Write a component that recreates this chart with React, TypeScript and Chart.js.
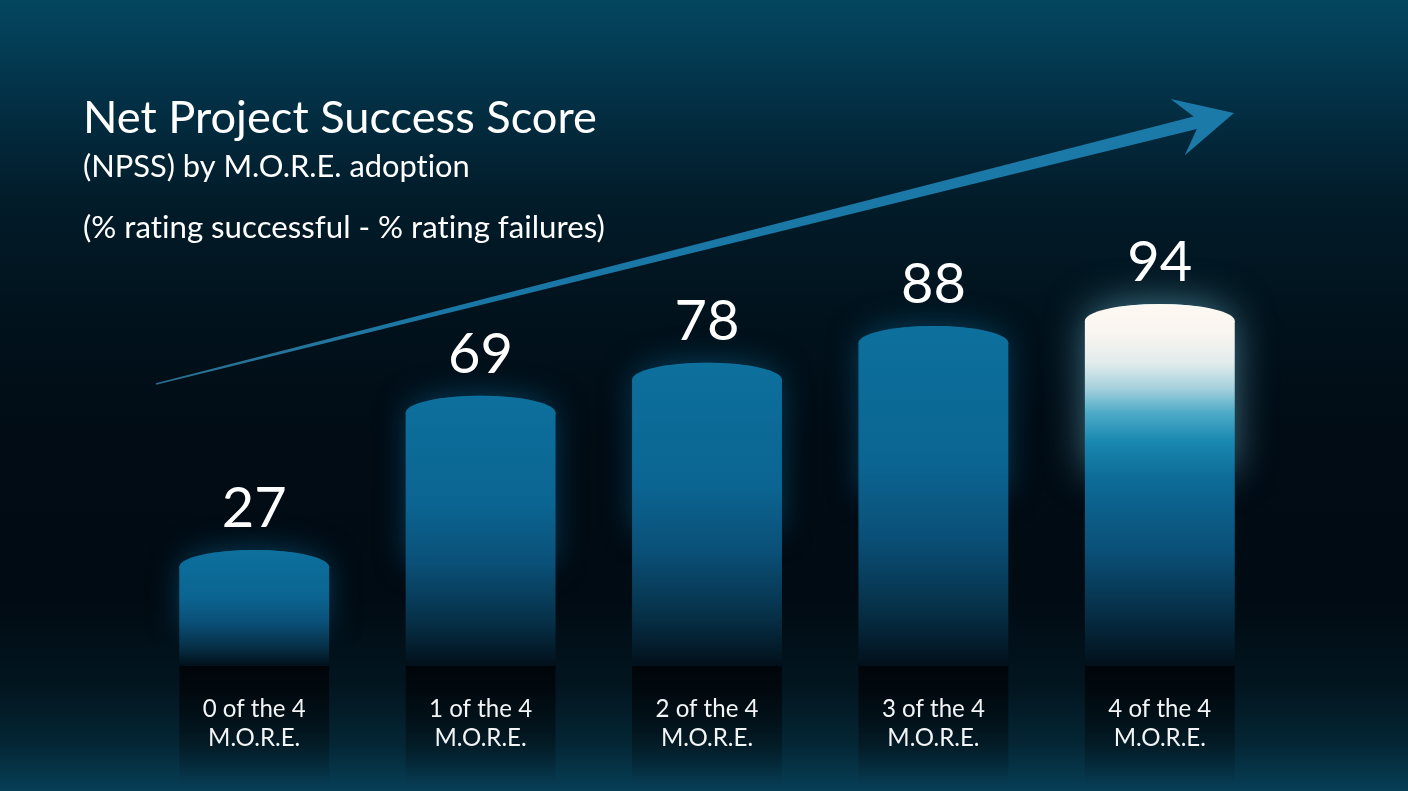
import React, { useEffect, useRef } from 'react';
import { Chart, registerables } from 'chart.js';

Chart.register(...registerables);

// ---------- data ----------
const CATEGORY_LINES: string[][] = [
  ['0 of the 4', 'M.O.R.E.'],
  ['1 of the 4', 'M.O.R.E.'],
  ['2 of the 4', 'M.O.R.E.'],
  ['3 of the 4', 'M.O.R.E.'],
  ['4 of the 4', 'M.O.R.E.'],
];
const NPSS_VALUES: number[] = [27, 69, 78, 88, 94];
const Y_RANGE: number[] = [0, 100];
const TITLE = 'Net Project Success Score';
const SUBTITLE = '(NPSS) by M.O.R.E. adoption';
const NOTE = '(% rating successful - % rating failures)';
const HIGHLIGHT_INDEX = 4;

// ---------- style ----------
const W = 1408;
const H = 791;
const FONT = 'Lato, "Open Sans", "DejaVu Sans", sans-serif';
const CAP = 17;

function fitSize(ctx: CanvasRenderingContext2D, text: string, target: number, weight = 'normal') {
  ctx.font = `${weight} 100px ${FONT}`;
  const w = ctx.measureText(text).width;
  return (100 * target) / w;
}

function noLigatures(ctx: any) {
  try {
    ctx.textRendering = 'optimizeSpeed';
  } catch (e) {
    /* ignore */
  }
}

function barGradient(ctx: CanvasRenderingContext2D, top: number, bottom: number, highlight: boolean) {
  const g = ctx.createLinearGradient(0, top, 0, bottom);
  if (highlight) {
    g.addColorStop(0, '#fdf8f2');
    g.addColorStop(0.08, '#f9f5f0');
    g.addColorStop(0.16, '#e3ecec');
    g.addColorStop(0.23, '#a9d2dd');
    g.addColorStop(0.3, '#4eabc8');
    g.addColorStop(0.38, '#1988b0');
    g.addColorStop(0.48, '#0d6c98');
    g.addColorStop(0.68, '#0a5078');
    g.addColorStop(0.85, '#062f47');
    g.addColorStop(1, '#02101a');
  } else {
    g.addColorStop(0, '#0d709d');
    g.addColorStop(0.4, '#0b6592');
    g.addColorStop(0.62, '#0a5078');
    g.addColorStop(0.84, '#062f46');
    g.addColorStop(1, '#02101a');
  }
  return g;
}

function shapePath(ctx: CanvasRenderingContext2D, x: number, top: number, w: number, bottom: number) {
  ctx.beginPath();
  ctx.moveTo(x - w / 2, bottom);
  ctx.lineTo(x - w / 2, top);
  ctx.ellipse(x, top, w / 2, CAP, 0, Math.PI, 2 * Math.PI);
  ctx.lineTo(x + w / 2, bottom);
  ctx.closePath();
}

const decorPlugin = {
  id: 'decor',
  beforeDraw(chart: any) {
    const ctx: CanvasRenderingContext2D = chart.ctx;
    ctx.save();
    noLigatures(ctx);
    // background
    const bg = ctx.createLinearGradient(0, 0, 0, H);
    bg.addColorStop(0, '#04465f');
    bg.addColorStop(0.06, '#033d55');
    bg.addColorStop(0.13, '#032f44');
    bg.addColorStop(0.25, '#021c2a');
    bg.addColorStop(0.4, '#01121c');
    bg.addColorStop(0.55, '#010c15');
    bg.addColorStop(0.76, '#010b13');
    bg.addColorStop(0.87, '#021620');
    bg.addColorStop(0.94, '#042634');
    bg.addColorStop(1, '#073f57');
    ctx.fillStyle = bg;
    ctx.fillRect(0, 0, W, H);

    // titles
    ctx.fillStyle = '#ffffff';
    ctx.textAlign = 'left';
    ctx.textBaseline = 'alphabetic';
    let s = fitSize(ctx, TITLE, 514);
    ctx.font = `normal ${s}px ${FONT}`;
    ctx.fillText(TITLE, 83, 133);
    s = fitSize(ctx, SUBTITLE, 387);
    ctx.font = `normal ${s}px ${FONT}`;
    ctx.fillText(SUBTITLE, 83, 177);
    s = fitSize(ctx, NOTE, 522);
    ctx.font = `normal ${s}px ${FONT}`;
    ctx.fillText(NOTE, 83, 238);

    // trend arrow
    const tail = { x: 156, y: 384 };
    const tip = { x: 1234, y: 113 };
    const dx = tip.x - tail.x;
    const dy = tip.y - tail.y;
    const len = Math.hypot(dx, dy);
    const u = { x: dx / len, y: dy / len };
    const n = { x: -u.y, y: u.x };
    const p = (b: { x: number; y: number }, a: number, c: number) => [b.x + a * u.x + c * n.x, b.y + a * u.y + c * n.y];
    const pts = [
      p(tail, 0, -0.8),
      p(tip, -40, -6.5),
      p(tip, -58, -29),
      p(tip, 0, 0),
      p(tip, -58, 29),
      p(tip, -40, 6.5),
      p(tail, 0, 0.8),
    ];
    const ag = ctx.createLinearGradient(tail.x, tail.y, tip.x, tip.y);
    ag.addColorStop(0, 'rgba(60,150,190,0.7)');
    ag.addColorStop(0.25, '#1a77a5');
    ag.addColorStop(1, '#1b7aa8');
    ctx.fillStyle = ag;
    ctx.beginPath();
    ctx.moveTo(pts[0][0], pts[0][1]);
    for (let i = 1; i < pts.length; i++) ctx.lineTo(pts[i][0], pts[i][1]);
    ctx.closePath();
    ctx.fill();
    ctx.restore();
  },
  beforeDatasetsDraw(chart: any) {
    const ctx: CanvasRenderingContext2D = chart.ctx;
    const meta = chart.getDatasetMeta(0);
    const bottom = chart.scales.y.getPixelForValue(0);
    // glow (clipped above the base line)
    meta.data.forEach((el: any, i: number) => {
      const x = el.x;
      const w = el.width;
      const top = el.y;
      const hl = i === HIGHLIGHT_INDEX;
      ctx.save();
      ctx.beginPath();
      ctx.rect(0, 0, W, bottom - 20);
      ctx.clip();
      ctx.shadowColor = hl ? 'rgba(120,200,225,0.6)' : 'rgba(15,115,165,0.5)';
      ctx.shadowBlur = hl ? 42 : 32;
      ctx.fillStyle = hl ? '#7cc0d6' : '#0b5f8b';
      shapePath(ctx, x, top, w - 6, top + Math.min((bottom - top) * 0.6, 150));
      ctx.fill();
      ctx.restore();
    });
    // dark column below each bar
    meta.data.forEach((el: any) => {
      const x = el.x;
      const w = el.width;
      ctx.save();
      const dg = ctx.createLinearGradient(0, bottom - 2, 0, 785);
      dg.addColorStop(0, 'rgba(0,3,7,0.9)');
      dg.addColorStop(0.45, 'rgba(0,3,7,0.5)');
      dg.addColorStop(1, 'rgba(0,3,7,0)');
      ctx.fillStyle = dg;
      ctx.fillRect(x - w / 2, bottom - 2, w, 785 - bottom + 2);
      ctx.restore();
    });
  },
  afterDatasetsDraw(chart: any) {
    const ctx: CanvasRenderingContext2D = chart.ctx;
    const meta = chart.getDatasetMeta(0);
    const bottom = chart.scales.y.getPixelForValue(0);
    const values = chart.data.datasets[0].data as number[];
    ctx.save();
    noLigatures(ctx);
    const labelSize = fitSize(ctx, CATEGORY_LINES[0][0], 103);
    ctx.restore();
    meta.data.forEach((el: any, i: number) => {
      const x = el.x;
      const w = el.width;
      const top = el.y;
      const hl = i === HIGHLIGHT_INDEX;
      // cylinder cap
      ctx.save();
      ctx.fillStyle = barGradient(ctx, top - CAP, bottom, hl);
      ctx.beginPath();
      ctx.moveTo(x - w / 2, top + 1);
      ctx.lineTo(x - w / 2, top);
      ctx.ellipse(x, top, w / 2, CAP, 0, Math.PI, 2 * Math.PI);
      ctx.lineTo(x + w / 2, top + 1);
      ctx.closePath();
      ctx.fill();
      ctx.restore();
      // value label
      ctx.save();
      noLigatures(ctx);
      ctx.fillStyle = '#ffffff';
      ctx.textAlign = 'center';
      ctx.textBaseline = 'alphabetic';
      ctx.font = `normal 56px ${FONT}`;
      ctx.fillText(String(values[i]), x, top - 40);
      // category label
      ctx.fillStyle = '#f2f4f5';
      ctx.font = `normal ${labelSize}px ${FONT}`;
      const lines = CATEGORY_LINES[i];
      ctx.fillText(lines[0], x, bottom + 51);
      ctx.fillText(lines[1], x, bottom + 80);
      ctx.restore();
    });
  },
};

export default function App() {
  const ref = useRef<HTMLCanvasElement>(null);
  useEffect(() => {
    const canvas = ref.current!;
    const chart = new Chart(canvas, {
      type: 'bar',
      data: {
        labels: CATEGORY_LINES.map((l) => l.join(' ')),
        datasets: [
          {
            data: NPSS_VALUES,
            borderWidth: 0,
            categoryPercentage: 1,
            barPercentage: 0.662,
            backgroundColor: (c: any) => {
              const ch = c.chart;
              if (!ch.chartArea) return '#0a6090';
              const ys = ch.scales.y;
              const top = ys.getPixelForValue(c.raw) - CAP;
              const bottom = ys.getPixelForValue(0);
              return barGradient(ch.ctx, top, bottom, c.dataIndex === HIGHLIGHT_INDEX);
            },
          },
        ],
      },
      options: {
        responsive: false,
        animation: false,
        devicePixelRatio: 1,
        layout: { padding: { left: 141, right: 135, top: 299, bottom: 125 } },
        scales: {
          x: { display: false },
          y: { display: false, min: Y_RANGE[0], max: Y_RANGE[1] },
        },
        plugins: {
          legend: { display: false },
          tooltip: { enabled: false },
        },
      },
      plugins: [decorPlugin],
    } as any);
    return () => chart.destroy();
  }, []);
  return (
    <div style={{ position: 'fixed', left: 0, top: 0, width: W, height: H, background: '#010c15' }}>
      <canvas ref={ref} width={W} height={H} style={{ display: 'block', width: W, height: H }} />
    </div>
  );
}
